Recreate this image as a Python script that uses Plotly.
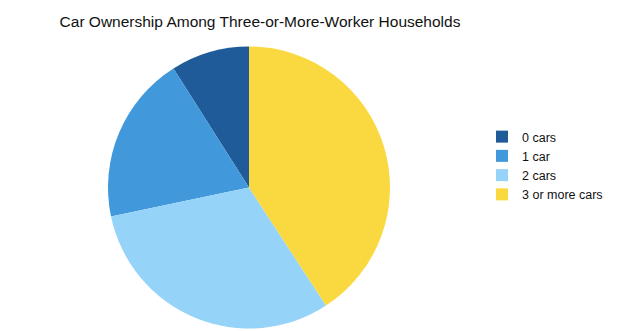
import plotly.graph_objects as go

categories = ["0 cars", "1 car", "2 cars", "3 or more cars"]
values = [9, 19.3, 30.9, 40.8]
colors = ["#1f5b99", "#4198da", "#96d3f9", "#fad940"]

W, H = 619, 331
cx, cy, r = 249, 187.5, 141

fig = go.Figure(go.Pie(
    labels=categories,
    values=values,
    sort=False,
    direction="counterclockwise",
    rotation=-32.4,
    marker=dict(colors=colors, line=dict(width=0)),
    textinfo="none",
    hoverinfo="label+percent",
    domain=dict(x=[(cx - r) / W, (cx + r) / W], y=[(H - cy - r) / H, (H - cy + r) / H]),
))

fig.update_layout(
    width=W, height=H,
    margin=dict(l=0, r=0, t=0, b=0),
    paper_bgcolor="white",
    font=dict(family="Liberation Sans, Arial, sans-serif", color="#111111"),
    title=dict(text="Car Ownership Among Three-or-More-Worker Households",
               x=260 / W, xanchor="center", xref="paper",
               y=1 - 22 / H, yanchor="middle", yref="container",
               font=dict(size=15.5, color="#111111")),
    legend=dict(x=482 / W, xanchor="left", y=1 - 122 / H, yanchor="top",
                font=dict(size=12.5), itemwidth=30, tracegroupgap=0),
    showlegend=True,
)

fig.write_html("out.html")
